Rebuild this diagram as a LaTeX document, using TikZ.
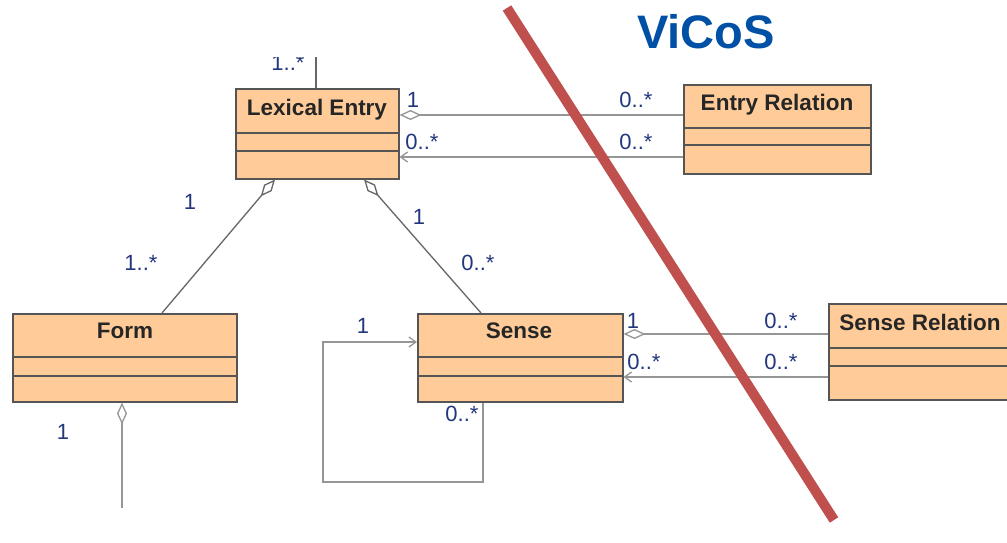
\documentclass[tikz,border=0pt]{standalone}
\usepackage{fontspec}
\setmainfont{Liberation Sans}
\usetikzlibrary{arrows.meta}
\definecolor{boxfill}{RGB}{255,204,153}
\definecolor{boxline}{RGB}{85,85,85}
\definecolor{assocline}{RGB}{150,150,150}
\definecolor{multcol}{RGB}{35,55,125}
\definecolor{strike}{RGB}{192,80,77}
\definecolor{titleblue}{RGB}{0,80,165}
\tikzset{
  umlbox/.style={draw=boxline, fill=boxfill, line width=1.5pt, rectangle,
    anchor=north west, inner sep=0pt},
  classname/.style={font=\bfseries\fontsize{22.5}{26}\selectfont, text=black!85, anchor=base, inner sep=0pt},
  mult/.style={font=\fontsize{22}{24}\selectfont, text=multcol, inner sep=0pt},
  assoc/.style={draw=assocline, line width=1.6pt},
  diag/.style={draw=boxline!90, line width=1.3pt},
  agg/.style={{Diamond[open,length=22pt,width=10pt,line width=1.3pt]}-},
  nav/.style={-{Straight Barb[length=7pt,width=10pt,line width=1.3pt]}},
}
\begin{document}
\begin{tikzpicture}[x=1pt,y=-1pt]
\useasboundingbox (0,0) rectangle (1007,542);
\fill[white] (0,0) rectangle (1007,542);

% class boxes
\node[umlbox, minimum width=163pt, minimum height=90pt] (le) at (235,88) {};
\node[umlbox, minimum width=187pt, minimum height=89pt] (er) at (683,84) {};
\node[umlbox, minimum width=224pt, minimum height=88pt] (fo) at (12,313) {};
\node[umlbox, minimum width=205pt, minimum height=88pt] (se) at (417,313) {};
\node[umlbox, minimum width=186pt, minimum height=96pt] (sr) at (828,303) {};

% compartments
\draw[boxline, line width=1.5pt] (le.west |- 0,133) -- (le.east |- 0,133);
\draw[boxline, line width=1.5pt] (le.west |- 0,151) -- (le.east |- 0,151);
\draw[boxline, line width=1.5pt] (er.west |- 0,128) -- (er.east |- 0,128);
\draw[boxline, line width=1.5pt] (er.west |- 0,145) -- (er.east |- 0,145);
\draw[boxline, line width=1.5pt] (fo.west |- 0,357) -- (fo.east |- 0,357);
\draw[boxline, line width=1.5pt] (fo.west |- 0,376) -- (fo.east |- 0,376);
\draw[boxline, line width=1.5pt] (se.west |- 0,357) -- (se.east |- 0,357);
\draw[boxline, line width=1.5pt] (se.west |- 0,376) -- (se.east |- 0,376);
\draw[boxline, line width=1.5pt] (sr.west |- 0,348) -- (sr.east |- 0,348);
\draw[boxline, line width=1.5pt] (sr.west |- 0,366) -- (sr.east |- 0,366);

% class names
\node[classname] (len) at (317,115) {Lexical Entry};
\node[classname] (ern) at (777,110) {Entry Relation};
\node[classname] (fon) at (125,338) {Form};
\node[classname] (sen) at (519,338) {Sense};
\node[classname] (srn) at (920,330) {Sense Relation};

% association leaving the top of Lexical Entry (cut off above)
\begin{scope}
  \clip (0,57) rectangle (1007,542);
  \coordinate (lettail) at (316,40);
  \draw[diag] (le.north -| 316,0) -- (lettail);
  \node[mult] (m0) at (288,63) {1..*};
\end{scope}

% Lexical Entry -- Entry Relation
\draw[assoc, agg] (le.east |- 0,115) -- (er.west |- 0,115);
\draw[assoc, nav] (er.west |- 0,157) -- (le.east |- 0,157);
\node[mult] (m1) at (413,100) {1};
\node[mult] (m2) at (636,100) {0..*};
\node[mult] (m3) at (422,142) {0..*};
\node[mult] (m4) at (636,142) {0..*};

% Lexical Entry -- Form
\draw[diag, agg] (275,0 |- le.south) -- (162,0 |- fo.north);
\node[mult] (m5) at (190,202) {1};
\node[mult] (m6) at (141,263) {1..*};

% Lexical Entry -- Sense
\draw[diag, agg] (364,0 |- le.south) -- (481,0 |- se.north);
\node[mult] (m7) at (419,217) {1};
\node[mult] (m8) at (478,263) {0..*};

% Sense -- Sense Relation
\draw[assoc, agg] (se.east |- 0,334) -- (sr.west |- 0,334);
\draw[assoc, nav] (sr.west |- 0,377) -- (se.east |- 0,377);
\node[mult] (m9) at (633,321) {1};
\node[mult] (m10) at (781,321) {0..*};
\node[mult] (m11) at (644,362) {0..*};
\node[mult] (m12) at (781,362) {0..*};

% Sense self association
\draw[assoc, nav] (483,0 |- se.south) -- (483,482) -- (323,482) -- (323,342) -- (se.west |- 0,342);
\node[mult] (m13) at (363,326) {1};
\node[mult] (m14) at (462,414) {0..*};

% association leaving the bottom of Form
\coordinate (formtail) at (122,508);
\draw[assoc, agg] (fo.south -| 122,0) -- (formtail);
\node[mult] (m15) at (63,432) {1};

% strike-through line
\coordinate (s1) at (507,8);
\coordinate (s2) at (834,520);
\draw[strike, line width=10pt] (s1) -- (s2);

% title
\node[font=\bfseries\fontsize{47}{50}\selectfont, text=titleblue, anchor=base, inner sep=0pt] (title) at (706,48) {ViCoS};
\end{tikzpicture}
\end{document}
